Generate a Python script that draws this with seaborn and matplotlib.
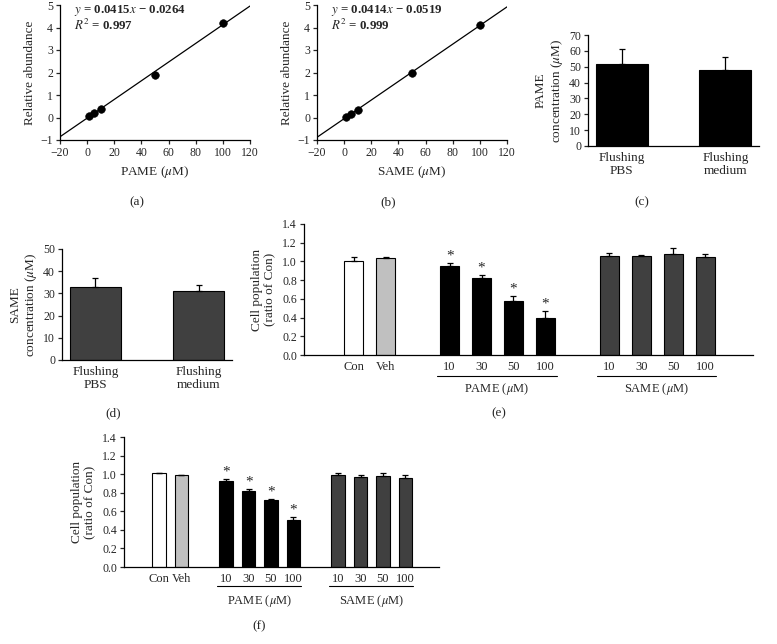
import matplotlib
matplotlib.use("Agg")
import matplotlib.pyplot as plt
import matplotlib.transforms as mtransforms
import numpy as np
import pandas as pd
import seaborn as sns

# ---- data ----
std_conc = [1, 5, 10, 50, 100]
pame_abund = [0.07, 0.20, 0.40, 1.90, 4.20]
same_abund = [0.03, 0.15, 0.35, 1.97, 4.10]
pame_fit = (0.0415, -0.0264)
same_fit = (0.0414, -0.0519)
pame_r2 = "0.997"
same_r2 = "0.999"

flush_labels = ["Flushing\nPBS", "Flushing\nmedium"]
pame_flush = [52, 48]
pame_flush_err = [9, 8]
same_flush = [33, 31]
same_flush_err = [4, 3]

treat_keys = ["Con", "Veh", "PAME 10", "PAME 30", "PAME 50", "PAME 100",
              "SAME 10", "SAME 30", "SAME 50", "SAME 100"]
treat_ticks = ["Con", "Veh", "10", "30", "50", "100", "10", "30", "50", "100"]
treat_colors = ["white", "#c0c0c0"] + ["black"] * 4 + ["#404040"] * 4
e_vals = [1.00, 1.033, 0.955, 0.82, 0.58, 0.40, 1.058, 1.054, 1.083, 1.047]
e_err = [0.045, 0.014, 0.032, 0.032, 0.046, 0.068, 0.029, 0.018, 0.064, 0.036]
f_vals = [1.01, 0.992, 0.927, 0.816, 0.722, 0.51, 0.995, 0.974, 0.981, 0.959]
f_err = [0.004, 0.004, 0.025, 0.025, 0.011, 0.029, 0.015, 0.021, 0.029, 0.033]
signif = [False, False, True, True, True, True, False, False, False, False]
ratio_ticks = ["0.0", "0.2", "0.4", "0.6", "0.8", "1.0", "1.2", "1.4"]
groups = [("PAME ($\\mu$M)", ["PAME 10", "PAME 100"]),
          ("SAME ($\\mu$M)", ["SAME 10", "SAME 100"])]

sns.set_theme(style="ticks")
plt.rcParams["font.family"] = ["Liberation Serif", "DejaVu Serif"]
plt.rcParams["mathtext.fontset"] = "stix"
plt.rcParams["axes.linewidth"] = 0.9
plt.rcParams["xtick.major.width"] = 0.9
plt.rcParams["ytick.major.width"] = 0.9
plt.rcParams["xtick.major.size"] = 3
plt.rcParams["ytick.major.size"] = 3
plt.rcParams["axes.edgecolor"] = "black"

TICK = 8.5
LAB = 9.5

W, H = 777, 644
fig = plt.figure(figsize=(W / 100, H / 100), dpi=100)


def add_ax(l, t, r, b):
    return fig.add_axes([l / W, 1 - b / H, (r - l) / W, (b - t) / H])


def panel_label(x, y, s):
    fig.text(x / W, 1 - y / H, s, ha="center", va="center", fontsize=LAB)


# ---- (a), (b) calibration curves ----
def calib(ax, y, fit, r2, name):
    sns.scatterplot(x=std_conc, y=y, color="black", s=30, edgecolor="black",
                    zorder=3, ax=ax)
    ax.axline((0, fit[1]), slope=fit[0], color="black", lw=0.9)
    ax.set_xlim(-20, 120)
    ax.set_ylim(-1, 5)
    ax.set_xticks(range(-20, 121, 20))
    ax.set_yticks(range(-1, 6))
    ax.tick_params(labelsize=TICK, pad=2)
    ax.set_ylabel("Relative abundance", fontsize=LAB, labelpad=3)
    ax.set_xlabel(name + " ($\\mu$M)", fontsize=LAB, labelpad=4)
    ax.text(-9.5, 4.75, "$\\mathit{y}$ = %.4f$\\mathit{x}$ \u2212 %.4f" % (fit[0], -fit[1]),
            fontsize=TICK + 0.8, va="center", fontweight="bold")
    ax.text(-9.5, 4.1, "$\\mathit{R}^2$ = " + r2, fontsize=TICK + 0.8,
            va="center", fontweight="bold")
    sns.despine(ax=ax)


ax_a = add_ax(60, 5, 250, 140)
calib(ax_a, pame_abund, pame_fit, pame_r2, "PAME")
ax_b = add_ax(317, 5, 507, 140)
calib(ax_b, same_abund, same_fit, same_r2, "SAME")


# ---- (c), (d) flushing concentration ----
def flush(ax, vals, errs, color, ymax, step, name):
    df = pd.DataFrame({"cond": flush_labels, "conc": vals})
    sns.barplot(data=df, x="cond", y="conc", color=color, edgecolor="black",
                linewidth=0.8, width=0.5, saturation=1, errorbar=None, ax=ax)
    ax.errorbar(range(len(vals)), vals, yerr=[np.zeros(len(vals)), errs],
                fmt="none", ecolor="black", elinewidth=0.9, capsize=2.5,
                capthick=0.9)
    ax.set_ylim(0, ymax)
    ax.set_yticks(range(0, ymax + 1, step))
    ax.tick_params(axis="x", length=0, labelsize=LAB, pad=4)
    ax.tick_params(axis="y", labelsize=TICK, pad=2)
    ax.set_xlabel("")
    ax.set_ylabel(name + "\nconcentration ($\\mu$M)", fontsize=LAB, labelpad=3)
    sns.despine(ax=ax)


ax_c = add_ax(588, 35, 759, 146)
flush(ax_c, pame_flush, pame_flush_err, "black", 70, 10, "PAME")
ax_d = add_ax(62, 249, 232, 360)
flush(ax_d, same_flush, same_flush_err, "#404040", 50, 10, "SAME")


# ---- (e), (f) cell population ----
order = ["Con", "Veh", "gap1", "PAME 10", "PAME 30", "PAME 50", "PAME 100",
         "gap2", "SAME 10", "SAME 30", "SAME 50", "SAME 100"]


def cells(ax, vals, errs, line_y, grp_y):
    df = pd.DataFrame({"treat": treat_keys, "ratio": vals})
    pal = dict(zip(treat_keys, treat_colors))
    sns.barplot(data=df, x="treat", y="ratio", order=order, hue="treat",
                hue_order=treat_keys, palette=pal, edgecolor="black",
                linewidth=0.8, width=0.6, saturation=1, errorbar=None,
                legend=False, ax=ax)
    xs = [order.index(k) for k in treat_keys]
    ax.errorbar(xs, vals, yerr=[np.zeros(len(vals)), errs], fmt="none",
                ecolor="black", elinewidth=0.9, capsize=2.5, capthick=0.9)
    for x, v, e, s in zip(xs, vals, errs, signif):
        if s:
            ax.text(x, v + e + 0.005, "*", ha="center", va="bottom",
                    fontsize=11)
    ax.set_xlim(-1.56, 12.5)
    ax.set_ylim(0, 1.4)
    ax.set_yticks(np.linspace(0, 1.4, len(ratio_ticks)))
    ax.set_yticklabels(ratio_ticks)
    ax.set_xticks(xs)
    ax.set_xticklabels(treat_ticks)
    ax.tick_params(axis="x", length=0, labelsize=TICK + 0.5, pad=4)
    ax.tick_params(axis="y", labelsize=TICK, pad=2)
    ax.set_xlabel("")
    ax.set_ylabel("Cell population\n(ratio of Con)", fontsize=LAB, labelpad=4)
    trans = mtransforms.blended_transform_factory(ax.transData, ax.transAxes)
    for label, (k0, k1) in groups:
        x0 = order.index(k0) - 0.4
        x1 = order.index(k1) + 0.35
        ax.plot([x0, x1], [line_y, line_y], color="black", lw=0.8,
                transform=trans, clip_on=False)
        ax.text((x0 + x1) / 2, grp_y, label, ha="center", va="center",
                fontsize=TICK + 0.5, transform=trans)
    sns.despine(ax=ax)


ax_e = add_ax(304, 224, 753, 355)
cells(ax_e, e_vals, e_err, -0.158, -0.26)
ax_f = add_ax(124, 437, 439, 567)
cells(ax_f, f_vals, f_err, -0.145, -0.26)

panel_label(137, 202, "(a)")
panel_label(388, 202, "(b)")
panel_label(642, 202, "(c)")
panel_label(113, 413, "(d)")
panel_label(499, 413, "(e)")
panel_label(259, 626, "(f)")

fig.savefig("out.png", dpi=100)
